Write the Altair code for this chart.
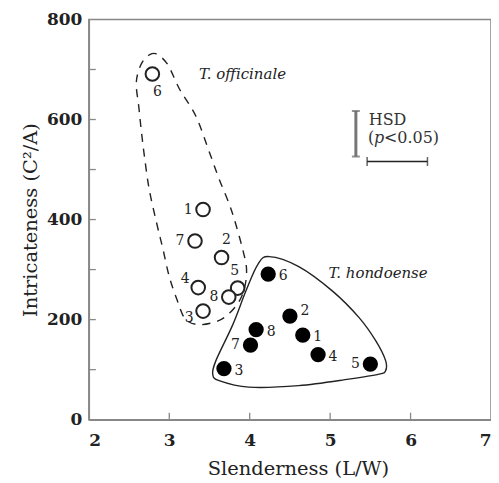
import altair as alt
import pandas as pd

# ---- data ----
ids = ["1", "2", "3", "4", "5", "6", "7", "8"]
off_x = [3.42, 3.65, 3.42, 3.36, 3.85, 2.79, 3.32, 3.74]
off_y = [420, 324, 217, 264, 263, 691, 357, 245]
hon_x = [4.66, 4.50, 3.68, 4.85, 5.50, 4.23, 4.01, 4.08]
hon_y = [169, 207, 102, 130, 111, 291, 149, 180]
off_lab = ["left", "above_r", "left_low", "left_high", "above_l", "below", "left", "left"]
hon_lab = ["right", "right_high", "right", "right", "left", "right", "left", "right"]

# enclosing outlines
off_hull_x = [2.67, 2.75, 2.84, 2.98, 3.13, 3.33, 3.50, 3.62, 3.75, 3.83, 3.91, 3.96, 3.94,
              3.87, 3.75, 3.60, 3.37, 3.20, 3.10, 3.00, 2.92, 2.84, 2.75, 2.69, 2.65, 2.62, 2.59, 2.61]
off_hull_y = [716, 729, 731, 710, 660, 607, 534, 481, 429, 389, 342, 303, 266,
              237, 213, 197, 190, 201, 238, 286, 342, 395, 461, 528, 581, 627, 667, 693]
hon_hull_x = [4.10, 4.24, 4.61, 5.03, 5.36, 5.57, 5.69, 5.69, 5.61, 5.23, 4.61, 3.99, 3.62,
              3.54, 3.58, 3.79, 3.95]
hon_hull_y = [310, 326, 306, 257, 204, 157, 118, 98, 91, 81, 68, 65, 78,
              91, 118, 190, 256]

# HSD bars
hsd_v_x = [5.32]
hsd_v_y = [526]
hsd_v_y2 = [617]
hsd_h_x = [5.46]
hsd_h_x2 = [6.21]
hsd_h_y = [516]

x_ticks = [3, 4, 5, 6]
y_ticks = [100, 200, 300, 400, 500, 600, 700]

W, H = 403, 401
SERIF = "DejaVu Serif"

xs = alt.Scale(domain=[2, 7], nice=False, zero=False)
ys = alt.Scale(domain=[0, 800], nice=False)
x_axis = alt.Axis(values=[2, 3, 4, 5, 6, 7], tickSize=0, grid=False,
                  labelPadding=13, titlePadding=11, titleX=W / 2 + 8, format="d")
y_axis = alt.Axis(values=[0, 200, 400, 600, 800], tickSize=0, grid=False,
                  labelPadding=7, titlePadding=6, format="d")
X_TITLE = "Slenderness (L/W)"
Y_TITLE = "Intricateness (C²/A)"

off = pd.DataFrame({"x": off_x, "y": off_y, "id": ids, "pos": off_lab})
hon = pd.DataFrame({"x": hon_x, "y": hon_y, "id": ids, "pos": hon_lab})
offh = pd.DataFrame({"x": off_hull_x, "y": off_hull_y, "i": range(len(off_hull_x))})
honh = pd.DataFrame({"x": hon_hull_x, "y": hon_hull_y, "i": range(len(hon_hull_x))})


def X(f="x"):
    return alt.X(f"{f}:Q", scale=xs, axis=x_axis, title=X_TITLE)


def Y(f="y"):
    return alt.Y(f"{f}:Q", scale=ys, axis=y_axis, title=Y_TITLE)


offset = {"left": (-15, 0), "right": (15, 2), "below": (5, 18), "above_r": (5, -18),
          "left_low": (-14, 7), "left_high": (-13, -9), "above_l": (-3, -17),
          "right_high": (15, -5)}

label_layers = []
for df in (off, hon):
    for p, (dx, dy) in offset.items():
        label_layers.append(
            alt.Chart(df).transform_filter(alt.datum.pos == p)
            .mark_text(font=SERIF, fontSize=14, dx=dx, dy=dy, color="#222")
            .encode(x=X(), y=Y(), text="id:N")
        )

off_hull = alt.Chart(offh).mark_line(interpolate="cardinal-closed", color="#222",
                                     strokeWidth=1.4, strokeDash=[8, 7]).encode(
    x=X(), y=Y(), order="i:Q")
hon_hull = alt.Chart(honh).mark_line(interpolate="cardinal-closed", color="#222",
                                     strokeWidth=1.4).encode(
    x=X(), y=Y(), order="i:Q")

off_pts = alt.Chart(off).mark_point(shape="circle", size=185, filled=True, fill="white",
                                    stroke="#222", strokeWidth=2, opacity=1).encode(x=X(), y=Y())
hon_pts = alt.Chart(hon).mark_point(shape="circle", size=235, filled=True, color="black",
                                    opacity=1).encode(x=X(), y=Y())

vdf = pd.DataFrame({"x": hsd_v_x, "y": hsd_v_y, "y2": hsd_v_y2})
hdf = pd.DataFrame({"x": hsd_h_x, "x2": hsd_h_x2, "y": hsd_h_y})
hsd_v = alt.Chart(vdf).mark_rule(color="#777", strokeWidth=3).encode(
    x=X(), y=Y(), y2="y2:Q")
hsd_v_caps = alt.Chart(vdf).transform_fold(["y", "y2"], as_=["k", "yy"]).mark_tick(
    orient="horizontal", size=8, thickness=2, color="#666").encode(x=X(), y=Y("yy"))
hsd_h = alt.Chart(hdf).mark_rule(color="#222", strokeWidth=1.5).encode(
    x=X(), x2="x2:Q", y=Y())
hsd_h_caps = alt.Chart(hdf).transform_fold(["x", "x2"], as_=["k", "xx"]).mark_tick(
    orient="vertical", size=9, thickness=1.5, color="#222").encode(x=X("xx"), y=Y())

txt = pd.DataFrame({"x": [5.48], "y": [600]})
hsd_t = alt.Chart(txt).mark_text(font=SERIF, fontSize=16, align="left", color="#333").encode(
    x=X(), y=Y(), text=alt.value("HSD"))
ptxt = pd.DataFrame({"x": [5.47], "y": [564]})
p1 = alt.Chart(ptxt).mark_text(font=SERIF, fontSize=16, align="left", color="#333").encode(
    x=X(), y=Y(), text=alt.value("("))
p2 = alt.Chart(ptxt).mark_text(font=SERIF, fontSize=16, align="left", fontStyle="italic",
                               dx=6, color="#333").encode(x=X(), y=Y(), text=alt.value("p"))
p3 = alt.Chart(ptxt).mark_text(font=SERIF, fontSize=16, align="left", dx=16,
                               color="#333").encode(x=X(), y=Y(), text=alt.value("<0.05)"))

sp = pd.DataFrame({"x": [3.37, 4.98], "y": [690, 293],
                   "t": ["T. officinale", "T. hondoense"]})
sp_t = alt.Chart(sp).mark_text(font=SERIF, fontSize=15, fontStyle="italic", align="left",
                               color="#222").encode(x=X(), y=Y(), text="t:N")

xt = alt.Chart(pd.DataFrame({"v": x_ticks})).mark_rule(color="#888", strokeWidth=1.3).encode(
    x=X("v"), y=alt.value(H), y2=alt.value(H - 7))
yt = alt.Chart(pd.DataFrame({"v": y_ticks})).mark_rule(color="#888", strokeWidth=1.3).encode(
    y=Y("v"), x=alt.value(0), x2=alt.value(7))

chart = alt.layer(
    xt, yt, off_hull, hon_hull, off_pts, hon_pts, *label_layers,
    hsd_v, hsd_v_caps, hsd_h, hsd_h_caps, hsd_t, p1, p2, p3, sp_t
).properties(
    width=W, height=H,
    autosize=alt.AutoSizeParams(type="none"),
    padding={"left": 81, "top": 11, "right": 0, "bottom": 70},
).configure_view(
    stroke="#888", strokeWidth=1.5
).configure_axis(
    labelFont=SERIF, labelFontSize=17, labelFontWeight="bold", labelColor="#222",
    titleFont=SERIF, titleFontSize=19.5, titleFontWeight="normal", titleColor="#222",
    domainColor="#888", domainWidth=1.5,
)

chart.save("out.html", embed_options={"renderer": "svg", "actions": False})
